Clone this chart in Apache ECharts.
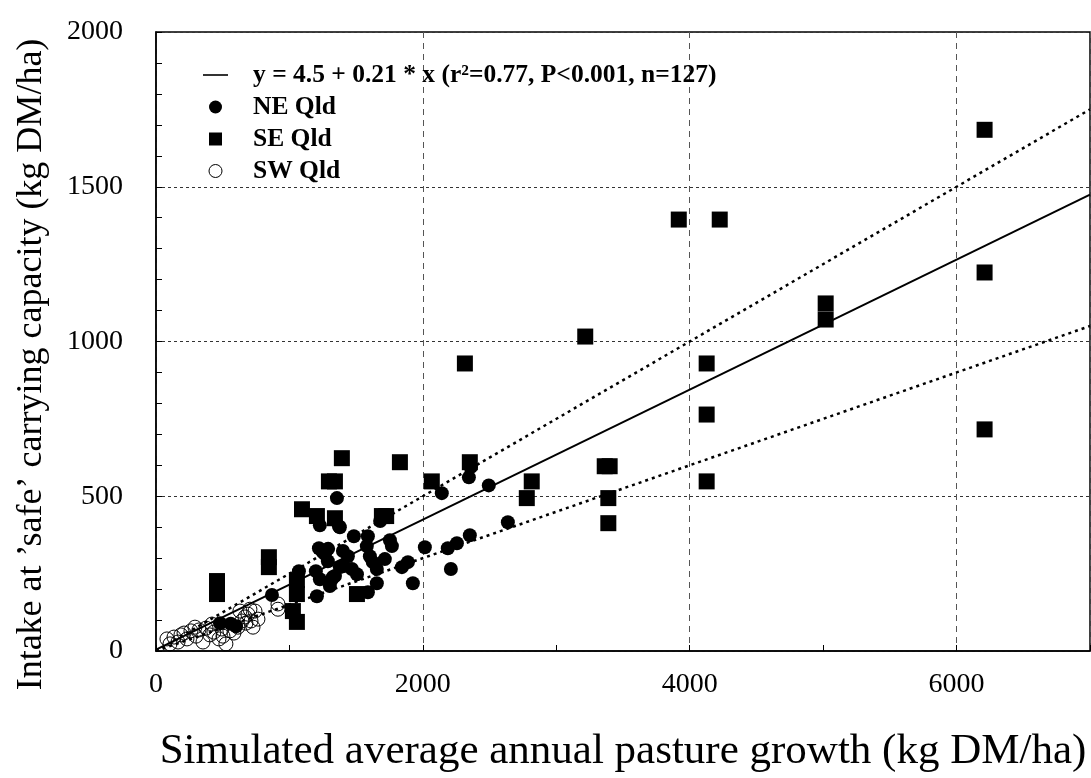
<!DOCTYPE html>
<html>
<head>
<meta charset="utf-8">
<script src="https://cdn.jsdelivr.net/npm/echarts@6/dist/echarts.min.js"></script>
<style>
  html, body { margin: 0; padding: 0; background: #fff; }
  #chart { width: 1091px; height: 778px; }
</style>
</head>
<body>
<div id="chart"></div>
<script>
// point data: [pasture growth, intake]
var neQld = [
    [480, 90], [560, 88], [600, 80], [869, 181],
    [1071, 258], [1198, 258], [1206, 177], [1221, 332], [1228, 406], [1228, 232],
    [1250, 320], [1266, 313], [1288, 290], [1290, 330], [1303, 210], [1318, 232],
    [1326, 239], [1341, 242], [1356, 494], [1371, 403], [1378, 400], [1378, 271],
    [1401, 323], [1401, 274], [1438, 306], [1468, 265], [1483, 371], [1506, 248],
    [1580, 339], [1588, 371], [1588, 190], [1603, 306], [1625, 287], [1655, 265],
    [1655, 219], [1680, 420], [1715, 297], [1753, 358], [1768, 339], [1843, 271],
    [1888, 287], [1925, 219], [2015, 335], [2142, 510], [2187, 332], [2210, 265],
    [2255, 348], [2345, 561], [2360, 594], [2352, 374], [2494, 535], [2637, 416]
];
var seQld = [
    [457, 226], [457, 184], [846, 303], [846, 271],
    [1026, 129], [1056, 94], [1056, 184], [1056, 229], [1094, 458],
    [1206, 436], [1296, 548], [1341, 548], [1341, 429], [1393, 623],
    [1506, 184], [1693, 436], [1725, 436], [1828, 610], [2067, 548],
    [2315, 929], [2352, 610], [2779, 494], [2816, 548], [3217, 1016],
    [3363, 597], [3400, 597], [3390, 494], [3390, 413],
    [3918, 1394], [4225, 1394], [4127, 929], [4127, 764], [4127, 548],
    [5019, 1123], [5019, 1071], [6210, 1684], [6210, 1223], [6210, 716]
];
var swQld = [
    [82, 39], [105, 23], [135, 45], [165, 29], [187, 52], [210, 58], [232, 39],
    [262, 65], [292, 77], [300, 48], [322, 68], [352, 29], [375, 74], [404, 52],
    [419, 87], [434, 61], [472, 39], [494, 71], [502, 48], [524, 23], [554, 65],
    [584, 58], [614, 77], [629, 129], [644, 97], [667, 110], [674, 90], [689, 119],
    [704, 135], [712, 97], [727, 77], [742, 129], [764, 103], [914, 152], [914, 135]
];
// fitted line and the two dotted bounds, as end points
var fitLine = [[0, 4.5], [7000, 1474.5]];
var upperLine = [[0, 0], [7000, 1750]];
var lowerLine = [[0, 0], [7000, 1050]];

var fitName = 'y = 4.5 + 0.21 * x (r\u00B2=0.77, P<0.001, n=127)';
var font = 'Liberation Serif';

var dom = document.getElementById('chart');
var myChart = echarts.init(dom, null, { renderer: 'canvas' });

var option = {
    animation: false,
    textStyle: { fontFamily: font, color: '#000' },
    grid: {
        left: 156, right: 1, top: 32, bottom: 126,
        show: true, borderColor: '#000', borderWidth: 1.5
    },
    legend: {
        orient: 'vertical',
        left: 198,
        top: 57,
        itemWidth: 25,
        itemHeight: 13,
        itemGap: 6,
        data: [
            { name: fitName, icon: 'path://M0,0L25,0L25,1.6L0,1.6Z' },
            { name: 'NE Qld', icon: 'circle' },
            { name: 'SE Qld', icon: 'path://M0,0L10,0L10,10L0,10Z' },
            { name: 'SW Qld', icon: 'circle',
              itemStyle: { color: '#fff', borderColor: '#000', borderWidth: 1 } }
        ],
        textStyle: {
            fontFamily: font, fontSize: 25.5, fontWeight: 'bold', color: '#000',
            padding: [0, 0, 0, 20]
        }
    },
    xAxis: {
        type: 'value',
        min: 0, max: 7000, interval: 2000,
        name: 'Simulated average annual pasture growth (kg DM/ha)',
        nameLocation: 'middle',
        nameGap: 79,
        nameTextStyle: { fontFamily: font, fontSize: 43, color: '#000' },
        axisLine: { lineStyle: { color: '#000', width: 1.5 } },
        axisTick: { inside: true, length: 6, lineStyle: { color: '#000' } },
        minorTick: { show: true, splitNumber: 2, length: 6, lineStyle: { color: '#000' } },
        axisLabel: {
            fontFamily: font, fontSize: 28, color: '#000', margin: 20,
            showMaxLabel: false,
            formatter: function (v) { return String(v); }
        },
        splitLine: { lineStyle: { color: '#555', type: [6, 5], width: 1 } }
    },
    yAxis: {
        type: 'value',
        min: 0, max: 2000, interval: 500,
        name: 'Intake at \u2019safe\u2019 carrying capacity (kg DM/ha)',
        nameLocation: 'middle',
        nameGap: 106,
        nameTextStyle: { fontFamily: font, fontSize: 36, color: '#000', padding: [0, 46, 0, 0] },
        axisLine: { show: true, lineStyle: { color: '#000', width: 1.5 } },
        axisTick: { show: true, inside: true, length: 6, lineStyle: { color: '#000' } },
        minorTick: { show: true, splitNumber: 5, length: 6, lineStyle: { color: '#000' } },
        axisLabel: {
            fontFamily: font, fontSize: 28, color: '#000', margin: 33,
            formatter: function (v) { return String(v); }
        },
        splitLine: { lineStyle: { color: '#333', type: [3, 3], width: 1 } }
    },
    series: [
        {
            name: fitName,
            type: 'line',
            data: fitLine,
            symbol: 'none',
            lineStyle: { color: '#000', width: 2 },
            itemStyle: { color: '#000' },
            z: 3
        },
        {
            name: 'upper',
            type: 'line',
            data: upperLine,
            symbol: 'none',
            lineStyle: { color: '#000', width: 2.5, type: [3, 4] },
            z: 3
        },
        {
            name: 'lower',
            type: 'line',
            data: lowerLine,
            symbol: 'none',
            lineStyle: { color: '#000', width: 2.5, type: [3, 4] },
            z: 3
        },
        {
            name: 'NE Qld',
            type: 'scatter',
            data: neQld,
            symbol: 'circle',
            symbolSize: 14,
            itemStyle: { color: '#000', opacity: 1 },
            z: 4
        },
        {
            name: 'SE Qld',
            type: 'scatter',
            data: seQld,
            symbol: 'rect',
            symbolSize: 16,
            itemStyle: { color: '#000', opacity: 1 },
            z: 4
        },
        {
            name: 'SW Qld',
            type: 'scatter',
            data: swQld,
            symbol: 'circle',
            symbolSize: 14,
            itemStyle: { color: 'rgba(255,255,255,0)', borderColor: '#000', borderWidth: 1, opacity: 1 },
            z: 4
        }
    ]
};

myChart.setOption(option);
window.addEventListener('resize', myChart.resize);
</script>
</body>
</html>
